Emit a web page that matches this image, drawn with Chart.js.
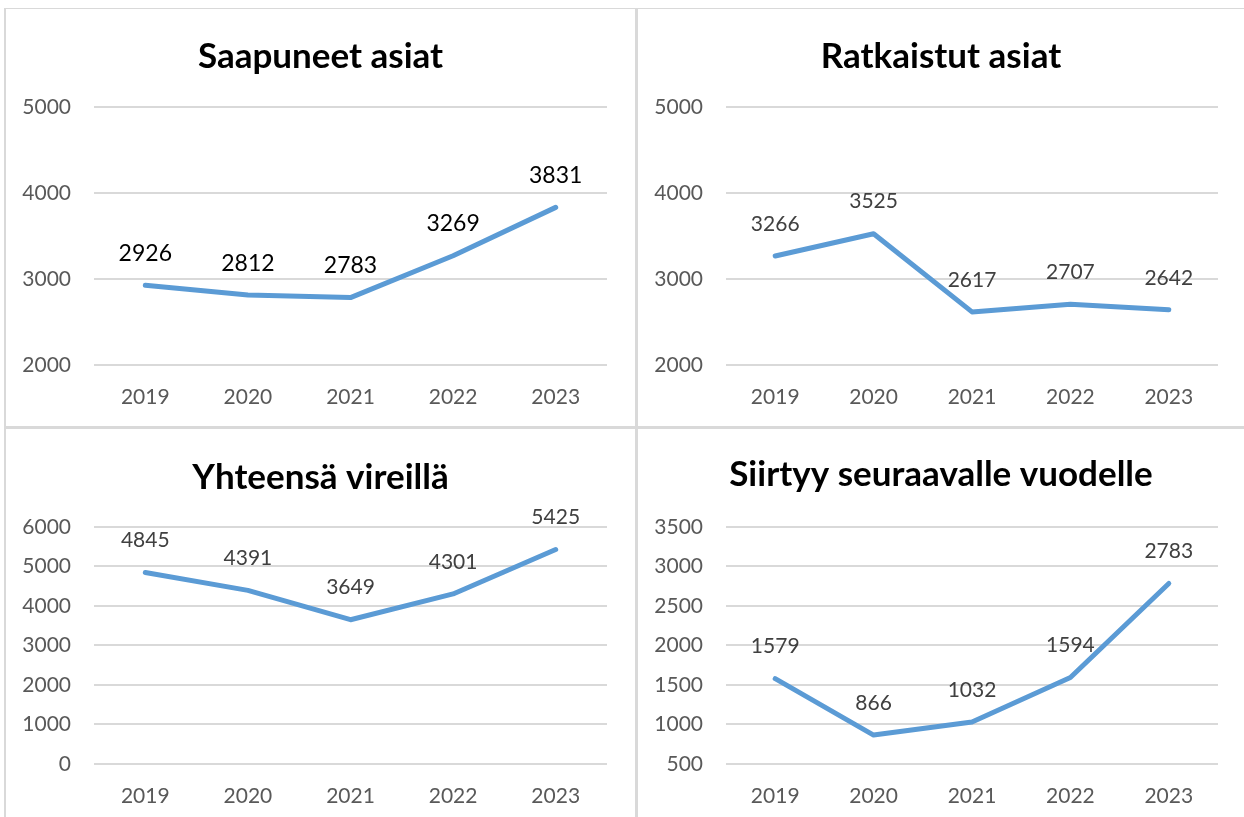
<!DOCTYPE html>
<html>
<head>
<meta charset="utf-8">
<script src="https://cdn.jsdelivr.net/npm/chart.js@4.4.1/dist/chart.umd.min.js"></script>
<style>
  body { margin: 0; background: #fff; width: 1244px; height: 817px; overflow: hidden; position: relative; }
  canvas { position: absolute; }
  .ln { position: absolute; background: #d9d9d9; }
</style>
</head>
<body>
<div class="ln" style="left:4px;top:8px;width:1240px;height:1px"></div>
<div class="ln" style="left:4px;top:8px;width:2px;height:809px"></div>
<div class="ln" style="left:635px;top:8px;width:3px;height:809px"></div>
<div class="ln" style="left:4px;top:426px;width:1240px;height:3px"></div>

<canvas id="c1" width="629" height="417" style="left:6px;top:9px"></canvas>
<canvas id="c2" width="606" height="417" style="left:638px;top:9px"></canvas>
<canvas id="c3" width="629" height="388" style="left:6px;top:429px"></canvas>
<canvas id="c4" width="606" height="388" style="left:638px;top:429px"></canvas>

<script>
// data
var years = ['2019', '2020', '2021', '2022', '2023'];
var saapuneet = [2926, 2812, 2783, 3269, 3831];
var ratkaistut = [3266, 3525, 2617, 2707, 2642];
var vireilla = [4845, 4391, 3649, 4301, 5425];
var siirtyy = [1579, 866, 1032, 1594, 2783];

Chart.defaults.font.family = 'Lato, "Open Sans", sans-serif';

// draws the value above each point
var valueLabels = {
  id: 'valueLabels',
  afterDatasetsDraw: function(chart, args, opts) {
    var ctx = chart.ctx;
    var meta = chart.getDatasetMeta(0);
    var data = chart.data.datasets[0].data;
    ctx.save();
    ctx.font = opts.size + 'px Lato, "Open Sans", sans-serif';
    ctx.fillStyle = opts.color;
    ctx.textAlign = 'center';
    ctx.textBaseline = 'middle';
    meta.data.forEach(function(pt, i) {
      ctx.fillText(String(data[i]), pt.x, pt.y - 32);
    });
    ctx.restore();
  }
};

function makeChart(id, title, values, min, max, step, o) {
  var ctx = document.getElementById(id).getContext('2d');
  return new Chart(ctx, {
    type: 'line',
    data: {
      labels: years,
      datasets: [{
        data: values,
        borderColor: '#5B9BD5',
        borderWidth: 5,
        borderJoinStyle: 'round',
        borderCapStyle: 'round',
        pointRadius: 0,
        tension: 0,
        fill: false
      }]
    },
    options: {
      responsive: false,
      animation: false,
      layout: { padding: 0 },
      plugins: {
        legend: { display: false },
        tooltip: { enabled: false },
        title: {
          display: true,
          text: title,
          color: '#000',
          font: { size: 35, weight: 'bold', lineHeight: 1.25 },
          padding: { top: o.titleTop, bottom: o.titleBottom }
        },
        valueLabels: { size: o.labelSize, color: o.labelColor }
      },
      scales: {
        x: {
          offset: true,
          grid: { display: false, drawTicks: false },
          border: { display: false },
          ticks: { color: '#595959', font: { size: 21 }, padding: 20, maxRotation: 0 },
          afterFit: function(s) { s.height = o.xHeight; }
        },
        y: {
          min: min, max: max,
          grid: { color: '#d9d9d9', lineWidth: 2, drawTicks: false },
          border: { display: false },
          ticks: {
            stepSize: step, color: '#595959', font: { size: 21 }, padding: 23,
            callback: function(v) { return String(v); }
          },
          afterFit: function(s) { s.width = o.yWidth; }
        },
        // empty axis, only keeps the right margin
        y2: {
          position: 'right',
          grid: { display: false, drawTicks: false },
          border: { display: false },
          ticks: { display: false },
          afterFit: function(s) { s.width = o.right; }
        }
      }
    },
    plugins: [valueLabels]
  });
}

makeChart('c1', 'Saapuneet asiat', saapuneet, 2000, 5000, 1000,
  { right: 28, yWidth: 88, xHeight: 61, titleTop: 26, titleBottom: 28, labelSize: 23, labelColor: '#000' });
makeChart('c2', 'Ratkaistut asiat', ratkaistut, 2000, 5000, 1000,
  { right: 26, yWidth: 88, xHeight: 61, titleTop: 26, titleBottom: 28, labelSize: 21, labelColor: '#404040' });
makeChart('c3', 'Yhteensä vireillä', vireilla, 0, 6000, 1000,
  { right: 28, yWidth: 88, xHeight: 53, titleTop: 27, titleBottom: 27, labelSize: 21, labelColor: '#404040' });
makeChart('c4', 'Siirtyy seuraavalle vuodelle', siirtyy, 500, 3500, 500,
  { right: 26, yWidth: 88, xHeight: 53, titleTop: 24, titleBottom: 30, labelSize: 21, labelColor: '#404040' });
</script>
</body>
</html>
